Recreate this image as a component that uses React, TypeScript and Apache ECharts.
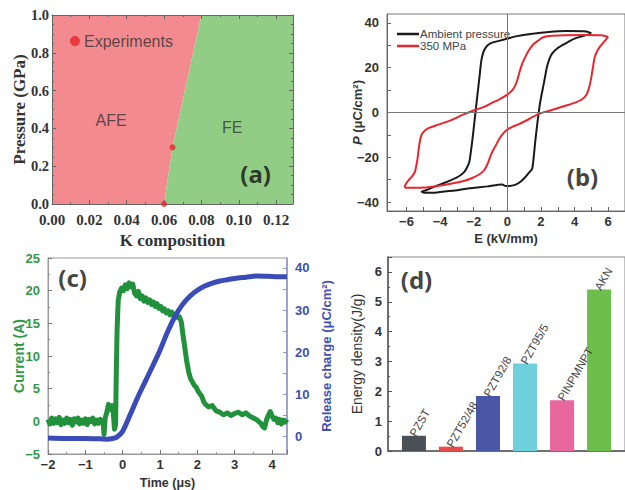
import React, { useEffect, useRef } from 'react';
import * as echarts from 'echarts';

// ---------- Panel (a): phase diagram ----------
const afeRegion = [[0, 0], [0.06, 0], [0.0645, 0.3], [0.08, 1.0], [0, 1.0]];
const feRegion = [[0.06, 0], [0.129, 0], [0.129, 1.0], [0.08, 1.0], [0.0645, 0.3]];
const experimentPoints = [[0.06, 0.0], [0.0645, 0.3]];

// ---------- Panel (b): P-E loops ----------
const ambientLoop = [
  [5.0, 35.3], [4.7, 36.2], [3.5, 36.4], [2.46, 36.0], [1.5, 35.2], [0.5, 34.0], [0, 33.0], [-0.5, 32.0],
  [-0.98, 31.0], [-1.2, 29.8], [-1.38, 27.8], [-1.5, 25], [-1.57, 21.9], [-1.67, 15], [-1.77, 8.5], [-1.87, 1.8],
  [-1.97, -5], [-2.07, -11.6], [-2.17, -17.5], [-2.26, -22], [-2.4, -24.6], [-2.56, -26.5], [-2.9, -28.6],
  [-3.34, -30.2], [-3.8, -31.6], [-4.3, -33], [-4.8, -34.6], [-5.1, -35.4],
  [-4.9, -35.9], [-4.3, -35.8], [-3.3, -35.0], [-2.36, -34.0], [-1.2, -33.0], [-0.3, -32.2], [-0.1, -32.8],
  [0.1, -32.8], [0.5, -32.2], [0.8, -30.8], [1.09, -28.7], [1.3, -26.8], [1.48, -25], [1.58, -19], [1.68, -11.6],
  [1.8, -4], [1.92, 3], [2.05, 8.5], [2.17, 13], [2.27, 17], [2.36, 20.4], [2.5, 23.8], [2.66, 26.3], [3.0, 28.8],
  [3.45, 30.8], [4.0, 33.0], [4.43, 34.0], [4.8, 34.8], [5.0, 35.3],
];
const pressureLoop = [
  [6.0, 33.8], [5.6, 34.5], [4.5, 34.6], [3.5, 34.5], [2.5, 34.2], [2.1, 33.5], [1.87, 32.3], [1.55, 30.5],
  [1.28, 27.8], [1.05, 24.5], [0.89, 21.9], [0.72, 18], [0.59, 14.4], [0.45, 11.8], [0.3, 10], [0, 8],
  [-0.5, 5.8], [-1.0, 4.0], [-1.38, 2.5], [-1.97, 1.0], [-2.7, -1.2], [-3.34, -3.4], [-4.1, -5.4], [-4.72, -7.1],
  [-5.0, -8.8], [-5.15, -11], [-5.25, -15], [-5.35, -21], [-5.5, -26.5], [-5.7, -28.8], [-5.9, -30.5],
  [-6.1, -33.0], [-6.05, -33.6],
  [-5.5, -33.6], [-4.7, -33.4], [-3.3, -31.7], [-2.6, -30.6], [-2.16, -29.5], [-1.7, -27.8], [-1.38, -25.8],
  [-1.15, -22.5], [-0.98, -19], [-0.8, -16.2], [-0.68, -14.6], [-0.45, -11.4], [-0.2, -9], [0, -7.6],
  [0.3, -6.4], [0.69, -5.2], [1.3, -2.9], [1.87, -0.6], [2.6, 1.0], [3.45, 3.0], [4.0, 4.3], [4.43, 5.8],
  [4.7, 7.8], [4.82, 10], [4.92, 12.8], [5.0, 15.9], [5.1, 20.5], [5.2, 24.8], [5.35, 27.5], [5.5, 29.3],
  [5.75, 31.5], [6.0, 33.8],
];
const eTickLabels = [-6, -4, -2, 0, 2, 4, 6];
const pTickLabels = [-40, -20, 0, 20, 40];

// ---------- Panel (c): current & released charge ----------
const currentTrace = [
  [-2.0, 0.3], [-1.95, -0.4], [-1.9, 0.5], [-1.85, -0.3], [-1.8, 0.4], [-1.75, -0.2], [-1.7, 0.6], [-1.65, -0.5],
  [-1.6, 0.2], [-1.55, -0.3], [-1.5, 0.5], [-1.45, -0.2], [-1.4, 0.3], [-1.35, -0.6], [-1.3, 0.4], [-1.25, -0.1],
  [-1.2, 0.5], [-1.15, -0.4], [-1.1, 0.2], [-1.05, -0.3], [-1.0, 0.4], [-0.95, -0.5], [-0.9, 0.3], [-0.85, 0.0],
  [-0.8, 0.5], [-0.75, -0.4], [-0.7, 0.2], [-0.65, -0.3], [-0.6, 0.3], [-0.55, -0.2], [-0.52, -0.3], [-0.5, -2.0],
  [-0.47, 0.5], [-0.42, 1.5], [-0.38, 2.6], [-0.33, 1.8], [-0.28, 2.4], [-0.25, 1.2], [-0.22, -1.2], [-0.19, -0.5],
  [-0.17, 8], [-0.15, 14], [-0.12, 18.5], [-0.08, 19.8], [-0.03, 20.4], [0.02, 20.0], [0.07, 20.9], [0.12, 20.3],
  [0.17, 21.2], [0.22, 20.6], [0.27, 21.0], [0.32, 19.6], [0.37, 19.2], [0.42, 19.9], [0.47, 18.8], [0.52, 19.2],
  [0.57, 18.4], [0.62, 18.9], [0.67, 18.2], [0.72, 18.6], [0.77, 17.9], [0.82, 18.3], [0.87, 17.6], [0.92, 18.0],
  [0.97, 17.3], [1.02, 17.6], [1.07, 16.9], [1.12, 17.2], [1.17, 16.6], [1.22, 16.9], [1.27, 16.3], [1.32, 16.7],
  [1.37, 16.1], [1.42, 16.4], [1.47, 15.9], [1.52, 16.0], [1.57, 15.2], [1.62, 13.0], [1.67, 11.0], [1.72, 9.0],
  [1.77, 7.5], [1.82, 6.5], [1.87, 6.0], [1.92, 5.5], [1.97, 5.2], [2.02, 4.6], [2.07, 4.2], [2.12, 3.8],
  [2.17, 3.0], [2.22, 2.6], [2.3, 2.2], [2.4, 2.4], [2.5, 1.6], [2.6, 1.4], [2.7, 1.0], [2.8, 1.3], [2.9, 0.9],
  [3.0, 1.2], [3.1, 1.4], [3.2, 1.0], [3.3, 1.3], [3.4, 0.8], [3.5, 0.5], [3.6, 0.2], [3.7, -0.3], [3.75, -0.8],
  [3.8, -1.0], [3.85, 0.2], [3.9, 0.9], [3.95, 1.5], [4.0, 0.8], [4.05, 0.3], [4.1, 0.5], [4.15, -0.2],
  [4.2, 0.3], [4.25, -0.4], [4.3, 0.2], [4.35, -0.1], [4.4, 0.3],
];
const chargeTrace = [
  [-2.0, -0.3], [-1.5, -0.4], [-1.0, -0.4], [-0.6, -0.5], [-0.4, -0.6], [-0.2, -0.3], [-0.1, 0.3], [0, 1.3],
  [0.2, 5.2], [0.4, 9.3], [0.6, 13.0], [0.8, 16.7], [1.0, 20.5], [1.2, 24.8], [1.4, 28.5], [1.6, 31.3],
  [1.8, 33.3], [2.0, 34.7], [2.2, 35.7], [2.4, 36.4], [2.6, 36.9], [2.8, 37.2], [3.0, 37.5], [3.3, 37.8],
  [3.6, 38.1], [3.9, 38.0], [4.2, 37.9], [4.4, 37.9],
];
const chargeTickLabels = [0, 10, 20, 30, 40];
const chargeTicks = [0, 5, 10, 15, 20, 25, 30, 35, 40];

// ---------- Panel (d): energy density ----------
const materials = ['PZST', 'PZT52/48', 'PZT92/8', 'PZT95/5', 'PINPMNPT', 'AKN'];
const energyDensity = [0.51, 0.145, 1.84, 2.93, 1.7, 5.41];
const barColors = ['#4b4f56', '#e84b4b', '#4a56a6', '#6fd0dd', '#e9679f', '#6cbf4b'];

const SANS = 'Liberation Sans, Arial, sans-serif';
const SERIF = 'Liberation Serif, Times New Roman, serif';
const TAG = 'Noto Sans, Open Sans, sans-serif';
const minus = (v: number) => (v < 0 ? '\u2212' + Math.abs(v) : String(v));

function tag(text: string, value: number[], xi: number, yi: number) {
  return {
    type: 'scatter', xAxisIndex: xi, yAxisIndex: yi, silent: true, symbolSize: 0, z: 10,
    data: [{ name: text, value }],
    label: { show: true, position: 'inside', formatter: '{b}', fontFamily: TAG, fontWeight: 'bold', fontSize: 24, color: '#111' },
  };
}

function buildOption() {
  const serifLbl = { fontFamily: SERIF, fontWeight: 'bold', fontSize: 15, color: '#333' };
  const aLine = { onZero: false, lineStyle: { color: '#666', width: 1 } };
  return {
    animation: false,
    backgroundColor: '#fff',
    grid: [
      { left: 52, top: 15, width: 241, height: 189 },
      { left: 387, top: 14, width: 240, height: 197, show: true, borderColor: '#777', borderWidth: 1 },
      { left: 48, top: 258, width: 239, height: 198, show: true, borderColor: '#999', borderWidth: 1 },
      { left: 388, top: 257, width: 240, height: 194, show: true, borderColor: '#888', borderWidth: 1 },
    ],
    legend: {
      left: 392, top: 23, orient: 'vertical', itemGap: 0, itemWidth: 22, itemHeight: 2.5, icon: 'rect',
      textStyle: { fontFamily: SANS, fontSize: 11.5, color: '#444', padding: [0, 0, 0, -4] },
      data: ['Ambient pressure', '350 MPa'],
    },
    xAxis: [
      {
        gridIndex: 0, type: 'value', min: 0, max: 0.129, interval: 0.02, z: 5,
        axisLine: aLine, axisTick: { inside: true, length: 4 }, minorTick: { show: true, splitNumber: 2, length: 2 },
        splitLine: { show: false },
        axisLabel: { ...serifLbl, showMaxLabel: false, margin: 8, formatter: (v: number) => v.toFixed(2) },
        name: 'K composition', nameLocation: 'middle', nameGap: 28, nameMoveOverlap: false,
        nameTextStyle: { fontFamily: SERIF, fontWeight: 'bold', fontSize: 17, color: '#333' },
      },
      {
        gridIndex: 1, type: 'value', min: -7.16, max: 7.0,
        axisLine: { onZero: false, lineStyle: { color: '#666', width: 1 } },
        axisTick: { inside: true, length: 4, customValues: [-6, -5, -4, -3, -2, -1, 0, 1, 2, 3, 4, 5, 6] },
        splitLine: { show: false },
        axisLabel: { customValues: eTickLabels, margin: 4, fontFamily: SANS, fontWeight: 'bold', fontSize: 13, color: '#333', formatter: minus },
        name: 'E (kV/mm)', nameLocation: 'middle', nameGap: 21, nameMoveOverlap: false,
        nameTextStyle: { fontFamily: SANS, fontWeight: 'bold', fontSize: 13, color: '#333' },
      },
      {
        gridIndex: 2, type: 'value', min: -2, max: 4.4, interval: 1,
        axisLine: { onZero: false, lineStyle: { color: '#999', width: 1 } },
        axisTick: { inside: true, length: 4, lineStyle: { color: '#777' } },
        minorTick: { show: true, splitNumber: 2, length: 2 },
        splitLine: { show: false },
        axisLabel: { margin: 4, fontFamily: SANS, fontWeight: 'bold', fontSize: 13, color: '#333', showMaxLabel: false, formatter: minus },
        name: 'Time (\u03bcs)', nameLocation: 'middle', nameGap: 22, nameMoveOverlap: false,
        nameTextStyle: { fontFamily: SANS, fontWeight: 'bold', fontSize: 12.5, color: '#333' },
      },
      {
        gridIndex: 3, type: 'value', min: 0.3, max: 6.7,
        axisLine: { onZero: false, lineStyle: { color: '#555', width: 1.5 } },
        axisTick: { show: false }, axisLabel: { show: false }, splitLine: { show: false },
      },
      {
        gridIndex: 0, type: 'value', position: 'top', min: 0, max: 0.129, interval: 0.02, z: 5,
        axisLine: aLine, axisTick: { inside: true, length: 4 }, minorTick: { show: true, splitNumber: 2, length: 2 },
        axisLabel: { show: false }, splitLine: { show: false },
      },
    ],
    yAxis: [
      {
        gridIndex: 0, type: 'value', min: 0, max: 1.0, interval: 0.2, z: 5,
        axisLine: aLine, axisTick: { inside: true, length: 4 }, minorTick: { show: true, splitNumber: 4, length: 2 },
        splitLine: { show: false },
        axisLabel: { ...serifLbl, fontSize: 14.5, margin: 3, formatter: (v: number) => v.toFixed(1) },
        name: 'Pressure (GPa)', nameLocation: 'middle', nameGap: 24, nameRotate: 90, nameMoveOverlap: false,
        nameTextStyle: { fontFamily: SERIF, fontWeight: 'bold', fontSize: 17, color: '#333' },
      },
      {
        gridIndex: 1, type: 'value', min: -44, max: 44,
        axisLine: { onZero: false, lineStyle: { color: '#666', width: 1 } },
        axisTick: { inside: true, length: 4, customValues: [-40, -30, -20, -10, 0, 10, 20, 30, 40] },
        splitLine: { show: false },
        axisLabel: { customValues: pTickLabels, fontFamily: SANS, fontWeight: 'bold', fontSize: 13, color: '#333', formatter: minus },
        name: '{i|P} (\u03bcC/cm\u00b2)', nameLocation: 'middle', nameGap: 23, nameRotate: 90, nameMoveOverlap: false,
        nameTextStyle: {
          fontFamily: SANS, fontWeight: 'bold', fontSize: 13, color: '#333',
          rich: { i: { fontFamily: SANS, fontWeight: 'bold', fontStyle: 'italic', fontSize: 13, color: '#333' } },
        },
      },
      {
        gridIndex: 2, type: 'value', min: -5, max: 25, interval: 5,
        axisLine: { onZero: false, lineStyle: { color: '#999', width: 1 } },
        axisTick: { inside: true, length: 4, lineStyle: { color: '#777' } },
        minorTick: { show: true, splitNumber: 2, length: 2 },
        splitLine: { show: false },
        axisLabel: { fontFamily: SANS, fontWeight: 'bold', fontSize: 13, color: '#2e9a48', formatter: minus },
        name: 'Current (A)', nameLocation: 'middle', nameGap: 22, nameRotate: 90, nameMoveOverlap: false,
        nameTextStyle: { fontFamily: SANS, fontWeight: 'bold', fontSize: 14, color: '#2e9a48' },
      },
      {
        gridIndex: 2, type: 'value', position: 'right', min: -4.1, max: 42.35,
        axisLine: { show: true, onZero: false, lineStyle: { color: '#8e93d6', width: 1.5 } },
        axisTick: { show: true, inside: true, length: 4, customValues: chargeTicks, lineStyle: { color: '#8e93d6' } },
        splitLine: { show: false },
        axisLabel: { customValues: chargeTickLabels, fontFamily: SANS, fontWeight: 'bold', fontSize: 13, color: '#3f4fb0' },
        name: 'Release charge (\u03bcC/cm\u00b2)', nameLocation: 'middle', nameGap: 33, nameRotate: 90, nameMoveOverlap: false,
        nameTextStyle: { fontFamily: SANS, fontWeight: 'bold', fontSize: 13, color: '#3f4fb0' },
      },
      {
        gridIndex: 3, type: 'value', min: 0, max: 6.5, interval: 1,
        axisLine: { onZero: false, lineStyle: { color: '#555', width: 1.5 } },
        axisTick: { inside: true, length: 4 }, minorTick: { show: true, splitNumber: 2, length: 2 },
        splitLine: { show: false },
        axisLabel: { margin: 6, fontFamily: SANS, fontWeight: 'bold', fontSize: 13, color: '#333', showMaxLabel: false },
        name: 'Energy density(J/g)', nameLocation: 'middle', nameGap: 24, nameRotate: 90, nameMoveOverlap: false,
        nameTextStyle: { fontFamily: SANS, fontSize: 14, color: '#333' },
      },
      {
        gridIndex: 0, type: 'value', position: 'right', min: 0, max: 1.0, interval: 0.2, z: 5,
        axisLine: aLine, axisTick: { inside: true, length: 4 }, minorTick: { show: true, splitNumber: 4, length: 2 },
        axisLabel: { show: false }, splitLine: { show: false },
      },
    ],
    series: [
      // (a) regions
      {
        type: 'custom', xAxisIndex: 0, yAxisIndex: 0, clip: true, silent: true, z: 1,
        data: [0, 1],
        renderItem: (params: any, api: any) => {
          const region = params.dataIndex === 0 ? afeRegion : feRegion;
          return {
            type: 'polygon',
            shape: { points: region.map((p) => api.coord(p)) },
            style: { fill: params.dataIndex === 0 ? '#f28a90' : '#92cd86' },
          };
        },
      },
      {
        type: 'scatter', xAxisIndex: 0, yAxisIndex: 0, symbolSize: 6, clip: false, silent: true, z: 6,
        itemStyle: { color: '#e8262a' }, data: experimentPoints,
      },
      {
        type: 'scatter', xAxisIndex: 0, yAxisIndex: 0, symbolSize: 10, silent: true, z: 6,
        itemStyle: { color: '#e8262a' },
        data: [{ name: 'Experiments', value: [0.0123, 0.862] }],
        label: { show: true, position: 'right', distance: 4, formatter: '{b}', fontFamily: SANS, fontSize: 16, color: '#333' },
      },
      {
        type: 'scatter', xAxisIndex: 0, yAxisIndex: 0, symbolSize: 0, silent: true, z: 6,
        data: [{ name: 'AFE', value: [0.0316, 0.444] }, { name: 'FE', value: [0.0964, 0.407] }],
        label: { show: true, position: 'inside', formatter: '{b}', fontFamily: SANS, fontSize: 16, color: '#333' },
      },
      tag('(a)', [0.109, 0.164], 0, 0),
      // (b) loops
      {
        name: 'Ambient pressure', type: 'line', xAxisIndex: 1, yAxisIndex: 1, data: ambientLoop,
        symbol: 'none', smooth: 0.25, lineStyle: { color: '#1a1a1a', width: 2 }, itemStyle: { color: '#1a1a1a' },
        markLine: {
          silent: true, symbol: ['none', 'none'], label: { show: false },
          lineStyle: { color: '#777', width: 1, type: 'solid' },
          data: [{ xAxis: 0 }, { yAxis: 0 }],
        },
      },
      {
        name: '350 MPa', type: 'line', xAxisIndex: 1, yAxisIndex: 1, data: pressureLoop,
        symbol: 'none', smooth: 0.25, lineStyle: { color: '#e8262e', width: 2 }, itemStyle: { color: '#e8262e' },
      },
      tag('(b)', [4.47, -28.4], 1, 1),
      // (c) traces
      {
        type: 'line', xAxisIndex: 2, yAxisIndex: 2, data: currentTrace, symbol: 'none',
        lineStyle: { color: '#21913c', width: 5, join: 'round' }, z: 3,
      },
      {
        type: 'line', xAxisIndex: 2, yAxisIndex: 3, data: chargeTrace, symbol: 'none', smooth: 0.3,
        lineStyle: { color: '#3b4cb8', width: 5 }, z: 4,
      },
      tag('(c)', [-1.34, 22.0], 2, 2),
      // (d) bars
      {
        type: 'bar', xAxisIndex: 3, yAxisIndex: 4, barWidth: 24,
        data: energyDensity.map((v, i) => ({ name: materials[i], value: [i + 1, v], itemStyle: { color: barColors[i] } })),
        label: {
          show: true, position: 'top', rotate: 60, align: 'left', verticalAlign: 'middle', distance: 3, offset: [-3, 0],
          formatter: '{b}', fontFamily: SANS, fontSize: 11.5, color: '#444',
        },
      },
      tag('(d)', [1.07, 5.75], 3, 4),
    ],
  };
}

export default function App() {
  const ref = useRef<HTMLDivElement>(null);
  useEffect(() => {
    document.body.style.margin = '0';
    const chart = echarts.init(ref.current as HTMLDivElement, null, { renderer: 'svg' });
    chart.setOption(buildOption() as any);
    return () => chart.dispose();
  }, []);
  return (
    <div
      ref={ref}
      style={{ position: 'fixed', left: 0, top: 0, width: 625, height: 490, background: '#fff', overflow: 'hidden' }}
    />
  );
}
